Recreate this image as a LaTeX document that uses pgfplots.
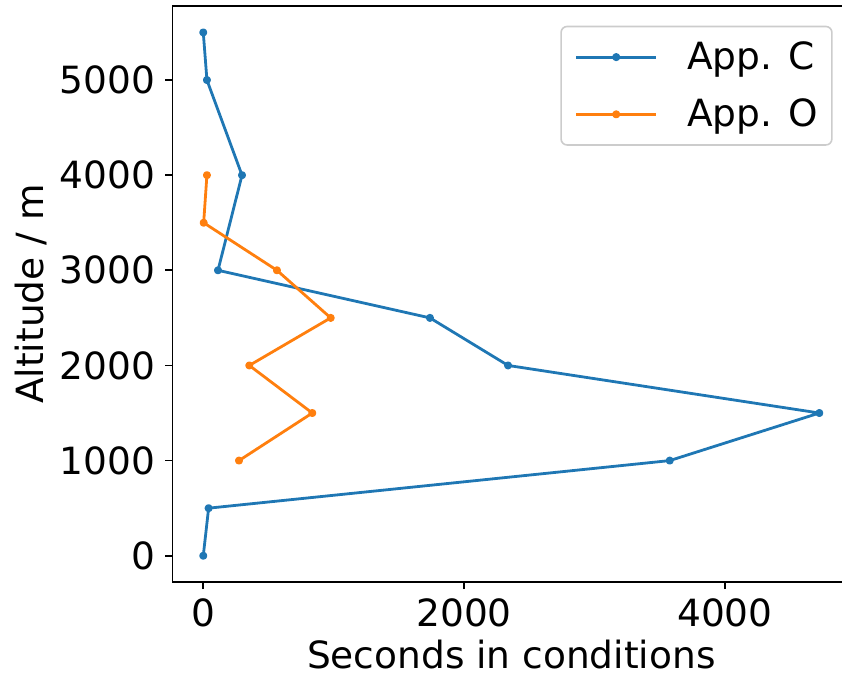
\documentclass[border=0pt]{standalone}
\usepackage{fontspec}
\setmainfont{DejaVu Sans}
\usepackage{pgfplots}
\usepackage{pgfplotstable}
\pgfplotsset{compat=1.18}
\definecolor{tabblue}{HTML}{1F77B4}
\definecolor{taborange}{HTML}{FF7F0E}
\newcommand\chartfont{\fontsize{18.75pt}{22.5pt}\selectfont}

% seconds spent in conditions per altitude band
\pgfplotstableread{
alt sec
0 0
500 41
1000 3577
1500 4724
2000 2337
2500 1738
3000 113
4000 297
5000 28
5500 0
}\appc
\pgfplotstableread{
alt sec
1000 274
1500 836
2000 353
2500 977
3000 565
3500 3
4000 28
}\appo

\begin{document}
\begin{tikzpicture}
\begin{axis}[
  scale only axis,
  width=338.8pt, height=287.8pt,
  xmin=-236, xmax=4960, ymin=-275, ymax=5775,
  xtick={0,2000,4000}, ytick={0,1000,...,5000},
  scaled ticks=false,
  tick align=outside,
  major tick length=3.65pt,
  every tick/.style={black, line width=0.83pt},
  axis line style={line width=0.83pt},
  xtick pos=lower, ytick pos=left,
  /pgf/number format/assume math mode=true,
  /pgf/number format/set thousands separator={},
  tick label style={font=\chartfont, inner sep=0pt},
  xticklabel shift=4.55pt, yticklabel shift=4.85pt,
  xlabel={Seconds in conditions},
  ylabel={Altitude / m},
  label style={font=\chartfont, inner sep=0pt},
  xlabel style={at={(rel axis cs:0.5,-0.1501)}, anchor=base},
  ylabel style={at={(rel axis cs:-0.1907,0.5)}, anchor=base},
  legend style={
    at={(rel axis cs:0.9743,0.9663)}, anchor=north east,
    draw=black!20, line width=0.8pt, rounded corners=3pt,
    fill=white, font=\chartfont,
    inner xsep=7pt, inner ysep=7.6pt,
    row sep=13.2pt, column sep=15pt,
    nodes={inner sep=0pt},
  },
  legend cell align=left,
  legend image code/.code={
    \draw[mark repeat=2, mark phase=2] plot coordinates {(0pt,0pt) (19.85pt,0pt) (39.7pt,0pt)};
  },
]
\addplot[tabblue, line width=1.4pt, line join=round, mark=*, mark size=1.3pt] table[x=sec, y=alt] {\appc};
\addlegendentry{App. C}
\addplot[taborange, line width=1.4pt, line join=round, mark=*, mark size=1.3pt] table[x=sec, y=alt] {\appo};
\addlegendentry{App. O}
\end{axis}
\pgfresetboundingbox
\path ([shift={(-86.25pt,-46.55pt)}]current axis.south west) rectangle ([shift={(334.75pt,3.15pt)}]current axis.north west);
\end{tikzpicture}
\end{document}
